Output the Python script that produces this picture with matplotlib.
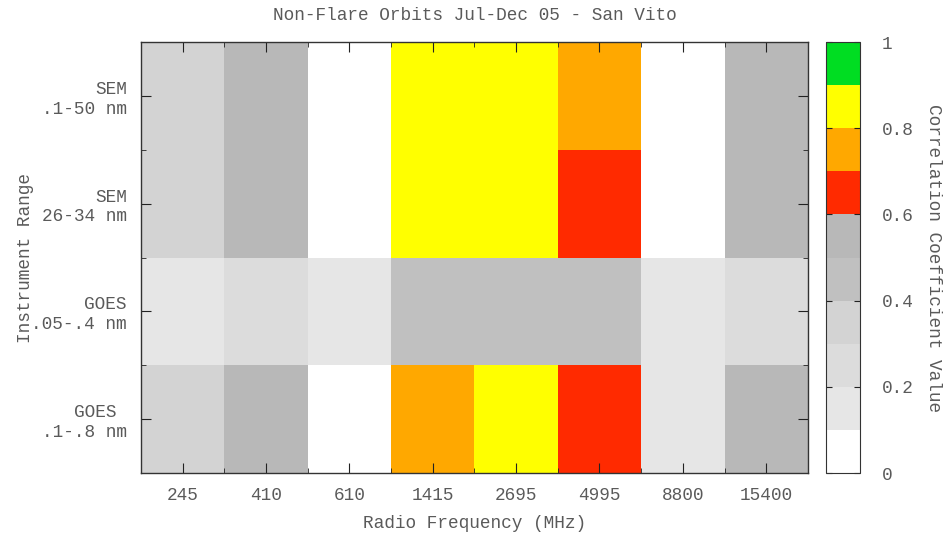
import matplotlib
matplotlib.use("Agg")
import matplotlib.pyplot as plt
import numpy as np
from matplotlib.colors import ListedColormap, BoundaryNorm
from matplotlib.ticker import FixedLocator

frequencies = ["245", "410", "610", "1415", "2695", "4995", "8800", "15400"]
instruments = ["SEM\n.1-50 nm", "SEM\n26-34 nm", "GOES\n.05-.4 nm", "GOES \n.1-.8 nm"]

# correlation values (rows top to bottom), estimated from colour bands
sem_1_50 = [0.35, 0.55, 0.05, 0.85, 0.85, 0.75, 0.05, 0.55]
sem_26_34 = [0.35, 0.55, 0.05, 0.85, 0.85, 0.65, 0.05, 0.55]
goes_05_4 = [0.15, 0.25, 0.15, 0.45, 0.45, 0.45, 0.15, 0.25]
goes_1_8 = [0.35, 0.55, 0.05, 0.75, 0.85, 0.65, 0.15, 0.55]

band_colors = ["#ffffff", "#e6e6e6", "#dcdcdc", "#d3d3d3", "#c0c0c0",
               "#b8b8b8", "#ff2a00", "#ffa800", "#ffff00", "#00dd22"]
bounds = np.linspace(0, 1, 11)

data = np.array([sem_1_50, sem_26_34, goes_05_4, goes_1_8])

plt.rcParams['font.family'] = ['Liberation Mono', 'DejaVu Sans Mono']
txt = "#5a5a5a"
fs = 12.8

fig = plt.figure(figsize=(9.45, 5.40), dpi=100)
ax = fig.add_axes([0.149, 0.124, 0.706, 0.798])
cax = fig.add_axes([0.874, 0.124, 0.036, 0.798])

cmap = ListedColormap(band_colors)
norm = BoundaryNorm(bounds, cmap.N)
nrows, ncols = data.shape
mesh = ax.pcolormesh(np.arange(ncols + 1), np.arange(nrows + 1), data[::-1],
                     cmap=cmap, norm=norm)
ax.set_xlim(0, ncols)
ax.set_ylim(0, nrows)

ax.set_xticks(np.arange(ncols) + 0.5)
ax.set_xticklabels(frequencies)
ax.set_yticks(np.arange(nrows) + 0.5)
ax.set_yticklabels(instruments[::-1], ha="right", multialignment="right")
ax.xaxis.set_minor_locator(FixedLocator(np.arange(ncols + 1)))
ax.yaxis.set_minor_locator(FixedLocator(np.arange(nrows + 1)))
ax.tick_params(which="both", direction="in", top=True, right=True,
               colors="#222222", labelcolor=txt, labelsize=fs)
ax.tick_params(which="major", length=7, pad=10)
ax.tick_params(which="minor", length=3.5)
for s in ax.spines.values():
    s.set_color("#333333")
    s.set_linewidth(1.0)

ax.set_xlabel("Radio Frequency (MHz)", color=txt, fontsize=fs, labelpad=8)
ax.set_ylabel("Instrument Range", color=txt, fontsize=fs, labelpad=-2)
ax.set_title("Non-Flare Orbits Jul-Dec 05 - San Vito", color=txt, fontsize=fs, pad=16)

cb = fig.colorbar(mesh, cax=cax, ticks=[0, 0.2, 0.4, 0.6, 0.8, 1])
cb.minorticks_off()
cb.set_ticklabels(["0", "0.2", "0.4", "0.6", "0.8", "1"])
cax.tick_params(which="major", direction="in", length=4, labelcolor=txt,
                labelsize=fs, pad=16, left=True, right=True, colors="#222222")
cb.outline.set_edgecolor("#333333")
cb.set_label("Correlation Coefficient Value", rotation=-90, color=txt,
             fontsize=fs, labelpad=20)

fig.savefig("out.png", dpi=100)
